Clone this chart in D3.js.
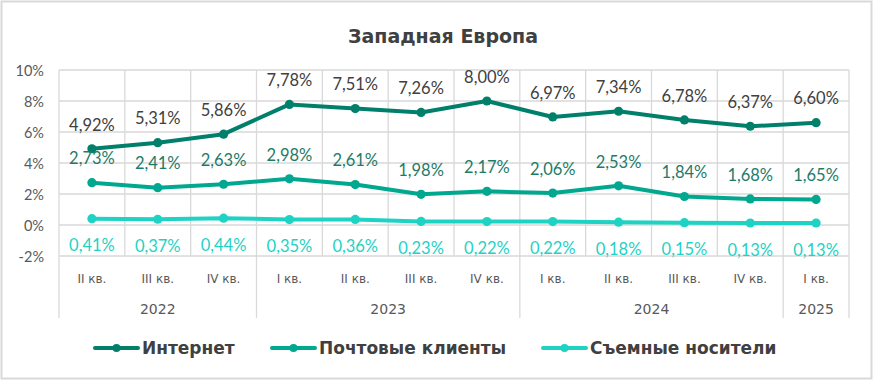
<!DOCTYPE html>
<html><head><meta charset="utf-8">
<script src="https://cdn.jsdelivr.net/npm/d3@7/dist/d3.min.js"></script>
<style>body{margin:0;background:#fff}svg{display:block}</style>
</head><body>
<svg id="c" width="873" height="381"></svg>
<script>
const quarters = ["II кв.","III кв.","IV кв.","I кв.","II кв.","III кв.","IV кв.","I кв.","II кв.","III кв.","IV кв.","I кв."];
const years = [{year:"2022",n:3},{year:"2023",n:4},{year:"2024",n:4},{year:"2025",n:1}];
const internet = [4.92,5.31,5.86,7.78,7.51,7.26,8.00,6.97,7.34,6.78,6.37,6.60];
const mail = [2.73,2.41,2.63,2.98,2.61,1.98,2.17,2.06,2.53,1.84,1.68,1.65];
const removable = [0.41,0.37,0.44,0.35,0.36,0.23,0.22,0.22,0.18,0.15,0.13,0.13];
const yTicks = [-2,0,2,4,6,8,10];
const seriesNames = ["Интернет","Почтовые клиенты","Съемные носители"];

const colors = ["#00806B","#00A88F","#1ED2C4"];
const labelColors = ["#404040","#1E7B67","#1ED2C4"];
const labelDy = [-24,-24,27];

const svg = d3.select("#c");
const W=873,H=381;
svg.append("rect").attr("x",1.5).attr("y",1.5).attr("width",W-3).attr("height",H-4)
  .attr("fill","#fff").attr("stroke","#d9d9d9").attr("stroke-width",2);

const L=59,R=849,T=70,B=256;
const idx = d3.range(quarters.length);
const x = d3.scaleBand().domain(idx).range([L,R]).padding(0);
const y = d3.scaleLinear().domain([-2,10]).range([B,T]);
const grid="#d9d9d9";

svg.append("g").selectAll("line").data(yTicks).join("line")
  .attr("x1",L).attr("x2",R).attr("y1",d=>y(d)).attr("y2",d=>y(d))
  .attr("stroke",grid).attr("stroke-width",1.3);
svg.append("g").selectAll("line").data(d3.range(quarters.length+1)).join("line")
  .attr("x1",d=>L+d*x.bandwidth()).attr("x2",d=>L+d*x.bandwidth())
  .attr("y1",T).attr("y2",B).attr("stroke",grid).attr("stroke-width",1.3);

const yAxis = d3.axisLeft(y).tickValues(yTicks).tickSize(0).tickPadding(0).tickFormat(d=>d+"%");
const ya = svg.append("g").attr("transform",`translate(44,0)`).call(yAxis);
ya.select(".domain").remove();
ya.selectAll("text").attr("font-family","Lato").attr("font-size",14.5).attr("fill","#595959").attr("dy","0.35em");

const xAxis = d3.axisBottom(x).tickSize(0).tickPadding(0).tickFormat(i=>quarters[i]);
const xa = svg.append("g").attr("transform",`translate(0,${B+27})`).call(xAxis);
xa.select(".domain").remove();
xa.selectAll("text").attr("font-family","DejaVu Sans").attr("font-size",12).attr("fill","#595959").attr("dy",0);

let acc=0; const bounds=[0];
years.forEach(g=>{acc+=g.n;bounds.push(acc);});
svg.append("g").selectAll("line").data(bounds).join("line")
  .attr("x1",d=>L+d*x.bandwidth()).attr("x2",d=>L+d*x.bandwidth())
  .attr("y1",B).attr("y2",318).attr("stroke",grid).attr("stroke-width",1.3);
let start=0;
years.forEach(g=>{
  const cx = L+(start+g.n/2)*x.bandwidth();
  svg.append("text").attr("x",cx).attr("y",314).attr("text-anchor","middle")
    .attr("font-family","DejaVu Sans").attr("font-size",14).attr("fill","#595959").text(g.year);
  start+=g.n;
});

const allSeries=[internet,mail,removable];
const line = d3.line().x((d,i)=>x(i)+x.bandwidth()/2).y(d=>y(d));
allSeries.forEach((s,k)=>{
  svg.append("path").datum(s).attr("d",line).attr("fill","none")
    .attr("stroke",colors[k]).attr("stroke-width",4).attr("stroke-linejoin","round");
  svg.append("g").selectAll("circle").data(s).join("circle")
    .attr("cx",(d,i)=>x(i)+x.bandwidth()/2).attr("cy",d=>y(d)).attr("r",4.6).attr("fill",colors[k]);
  svg.append("g").selectAll("text").data(s).join("text")
    .attr("x",(d,i)=>x(i)+x.bandwidth()/2).attr("y",d=>y(d)+labelDy[k])
    .attr("dy","0.35em").attr("text-anchor","middle")
    .attr("font-family","Lato").attr("font-size",16.5).attr("fill",labelColors[k])
    .text(d=>d.toFixed(2).replace(".",",")+"%");
});

svg.append("text").attr("x",443).attr("y",43).attr("text-anchor","middle")
  .attr("font-family","DejaVu Sans").attr("font-weight",700).attr("font-size",19).attr("fill","#404040")
  .text("Западная Европа");

const legX=[95,272,543];
seriesNames.forEach((n,k)=>{
  const g=svg.append("g").attr("transform",`translate(${legX[k]},348)`);
  g.append("line").attr("x1",0).attr("x2",43).attr("stroke",colors[k]).attr("stroke-width",4).attr("stroke-linecap","round");
  g.append("circle").attr("cx",21.5).attr("r",4).attr("fill",colors[k]);
  g.append("text").attr("x",47).attr("dy","0.35em").attr("font-family","DejaVu Sans").attr("font-weight",700)
    .attr("font-size",17).attr("fill","#404040").text(n);
});
</script>
</body></html>
